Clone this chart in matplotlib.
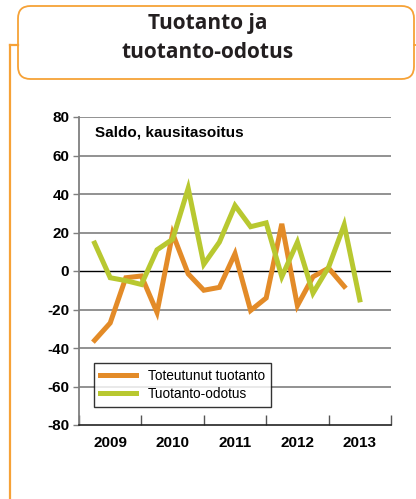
import matplotlib
matplotlib.use("Agg")
import matplotlib.pyplot as plt
from matplotlib.patches import FancyBboxPatch
from matplotlib.lines import Line2D

# Data (quarterly, plotted at quarter end)
start_year = 2009
toteutunut = [-36, -27, -3.5, -2.6, -21.5, 19.5, -1.5, -10, -8.5, 9, -20.5, -14,
              24.5, -18, -3, 1.5, -8]
odotus = [14.5, -3.5, -5, -7, 11, 16.5, 43, 3.5, 15, 34, 23, 25, -3, 15, -11.5,
          2, 24, -15]
years = [2009, 2010, 2011, 2012, 2013]
yticks = [80, 60, 40, 20, 0, -20, -40, -60, -80]
labels = ["Toteutunut tuotanto", "Tuotanto-odotus"]
title_lines = ["Tuotanto ja", "tuotanto-odotus"]
subtitle = "Saldo, kausitasoitus"

ORANGE = "#E38B28"
GREEN = "#B8C830"
FRAME = "#F6A237"

W, H = 416, 499
fig = plt.figure(figsize=(W / 100, H / 100), dpi=100)

def fx(px):
    return px / W

def fy(py):
    return 1 - py / H

# Title frame
box = FancyBboxPatch((fx(18), fy(79)), fx(414) - fx(18), fy(6) - fy(79),
                     boxstyle="round,pad=0,rounding_size=0.03",
                     transform=fig.transFigure, fill=False, edgecolor=FRAME,
                     linewidth=1.3, mutation_aspect=W / H)
fig.patches.append(box)
fig.lines.append(Line2D([fx(10), fx(18)], [fy(45), fy(45)], transform=fig.transFigure,
                        color=FRAME, linewidth=1.6))
fig.lines.append(Line2D([fx(10), fx(10)], [fy(45), fy(499)], transform=fig.transFigure,
                        color=FRAME, linewidth=1.6))
fig.lines.append(Line2D([fx(414), fx(416)], [fy(45), fy(45)], transform=fig.transFigure,
                        color=FRAME, linewidth=1.3))
fig.text(0.5, fy(23), title_lines[0], ha="center", va="center", fontsize=15,
         fontweight="bold", family="Open Sans", color="#231F20")
fig.text(0.5, fy(53), title_lines[1], ha="center", va="center", fontsize=15,
         fontweight="bold", family="Open Sans", color="#231F20")

ax = fig.add_axes([fx(79), fy(425), fx(391) - fx(79), fy(117) - fy(425)])

x_tot = [start_year + 0.25 * (i + 1) for i in range(len(toteutunut))]
x_odo = [start_year + 0.25 * (i + 1) for i in range(len(odotus))]

for yv in yticks:
    if yv == 0:
        ax.axhline(yv, color="black", linewidth=1.0, zorder=1)
    elif yv != -80:
        ax.axhline(yv, color="#7F7F7F", linewidth=1.2, zorder=1)

ax.plot(x_tot, toteutunut, color=ORANGE, linewidth=3.6, label=labels[0], zorder=3,
        solid_joinstyle="miter")
ax.plot(x_odo, odotus, color=GREEN, linewidth=3.6, label=labels[1], zorder=4,
        solid_joinstyle="miter")

ax.set_xlim(years[0], years[-1] + 1)
ax.set_ylim(-80, 80)
ax.set_yticks(yticks)
ax.set_yticklabels([str(v) for v in yticks], fontsize=11, fontweight="bold",
                   family="Liberation Sans")
ax.set_xticks([y for y in range(years[0], years[-1] + 2)])
ax.set_xticklabels([])
ax.set_xticks([y + 0.5 for y in years], minor=True)
ax.set_xticklabels([str(y) for y in years], minor=True, fontsize=11,
                   fontweight="bold", family="Liberation Sans")
ax.tick_params(axis="x", which="major", direction="in", length=7, width=1,
               color="#555555")
ax.tick_params(axis="x", which="minor", length=0, pad=8)
ax.tick_params(axis="y", direction="out", length=4, width=1, color="#7F7F7F", pad=3)

for s in ["top", "right"]:
    ax.spines[s].set_visible(False)
ax.spines["left"].set_color("#7F7F7F")
ax.spines["left"].set_linewidth(1.3)
ax.spines["bottom"].set_color("#222222")
ax.spines["bottom"].set_linewidth(1.2)

ax.text(0.05, 0.951, subtitle, transform=ax.transAxes, fontsize=11,
        fontweight="bold", family="Liberation Sans", va="center", ha="left")

leg = ax.legend(loc="upper left", bbox_to_anchor=((94 - 79) / 312, (425 - 363) / 308),
                frameon=True, fancybox=False,
                prop={"family": "Liberation Sans", "size": 9.8},
                handlelength=2.6, handletextpad=0.9, borderpad=0.45,
                labelspacing=0.3, borderaxespad=0)
leg.get_frame().set_edgecolor("black")
leg.get_frame().set_linewidth(1.0)
leg.set_zorder(5)

fig.savefig("out.png", dpi=100)
